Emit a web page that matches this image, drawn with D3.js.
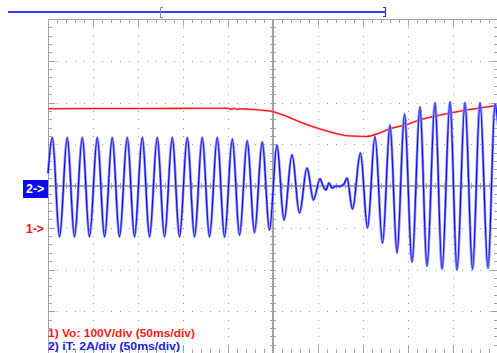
<!DOCTYPE html>
<html><head><meta charset="utf-8">
<script src="https://cdn.jsdelivr.net/npm/d3@7/dist/d3.min.js"></script>
<style>html,body{margin:0;padding:0;background:#fff;overflow:hidden}</style>
</head><body>
<svg id="c" width="497" height="353"></svg>
<script>
// ---- data ----
// time (ms), 50 ms/div, screen spans 10 divisions
const timeDivisions = [-250,-200,-150,-100,-50,0,50,100,150,200,250];
// channel 2 current (A), 2 A/div, 8 divisions
const currentDivisions = [-8,-6,-4,-2,0,2,4,6,8];
// channel 1 voltage (V), 100 V/div, ground marker one division below centre
const voltageDomain = [-300, 500];

const currentTime = [-250,-245.2,-237.2,-228.6,-220.6,-211.9,-203.9,-195.2,-187.2,-178.6,-170.6,-161.9,-153.9,-145.2,-137.2,-128.6,-120.6,-111.9,-103.9,-95.2,-87.2,-78.6,-70.6,-61.9,-53.9,-45.2,-37.2,-28.6,-20.6,-11.9,-3.9,4.4,12.2,21.1,29.4,37.8,45.0,52.2,55.6,58.9,62.2,65.6,70.0,74.4,78.9,82.2,88.3,97.2,105.0,113.3,121.7,130.0,137.8,146.1,154.4,163.3,171.1,180.0,187.8,196.7,204.4,213.3,221.7,230.0,238.9,246.7,250];
const currentValue = [0.6,2.32,-2.43,2.32,-2.43,2.32,-2.43,2.32,-2.43,2.32,-2.43,2.32,-2.43,2.32,-2.43,2.32,-2.43,2.32,-2.43,2.32,-2.43,2.32,-2.43,2.32,-2.44,2.25,-2.35,2.16,-2.23,2.11,-2.11,1.96,-1.63,1.49,-1.29,0.86,-0.67,0.34,0,-0.19,0.14,-0.10,0,-0.02,0.10,0.38,-1.10,1.58,-2.01,2.35,-2.73,2.92,-3.21,3.45,-3.64,3.78,-3.83,3.98,-3.98,4.02,-4.02,3.98,-3.98,3.98,-3.93,3.93,2.9];

// voltage trace Vo
const voltageTime = [-250,-192.2,-136.7,-81.1,-50,-46.7,-43.3,-40,-36.7,-25.6,-12.2,0,13.3,30,48.9,66.7,82.2,104.4,118.9,130,150,163.3,180,196.7,213.3,230,250];
const voltageValue = [285.0,285.5,285.5,286.2,286.2,283.5,286.0,283.5,285.0,283.8,281.4,277.8,268.3,253.2,238.8,227.5,220.4,218.7,227.5,237.1,247.9,258.7,267.1,274.7,281.4,286.7,293.4];

const legendLabels = ["1) Vo: 100V/div (50ms/div)", "2) iT: 2A/div (50ms/div)"];
const markerLabels = ["1->", "2->"];

// ---- drawing ----
const svg = d3.select("#c");
const L = 48, R = 498, T = 19, B = 353;
const x = d3.scaleLinear().domain([timeDivisions[0], timeDivisions[timeDivisions.length-1]]).range([L, R]);
const yI = d3.scaleLinear().domain([currentDivisions[0], currentDivisions[currentDivisions.length-1]]).range([B, T]);
const yV = d3.scaleLinear().domain(voltageDomain).range([B, T]);

svg.append("rect").attr("width",497).attr("height",353).attr("fill","#fff");

const grid = svg.append("g").attr("stroke","#a3a3a3").attr("fill","none").attr("shape-rendering","crispEdges");
const minorT = d3.range(0, 51).map(i => timeDivisions[0] + i*10);
const minorI = d3.range(0, 41).map(i => currentDivisions[0] + i*0.4);
const isMajorT = t => Math.abs(t % 50) < 1e-6;
const isMajorI = v => Math.abs(Math.round(v/2)*2 - v) < 1e-6;

// border
grid.append("rect").attr("x",L).attr("y",T).attr("width",R-L).attr("height",B-T).attr("stroke-width",1);
// border ticks
minorT.forEach(t => {
  const len = isMajorT(t) ? 7 : 4;
  grid.append("line").attr("x1",Math.round(x(t))+0.5).attr("x2",Math.round(x(t))+0.5).attr("y1",T).attr("y2",T+len);
  grid.append("line").attr("x1",Math.round(x(t))+0.5).attr("x2",Math.round(x(t))+0.5).attr("y1",B).attr("y2",B-len);
});
minorI.forEach(v => {
  const len = isMajorI(v) ? 7 : 4;
  grid.append("line").attr("y1",Math.round(yI(v))+0.5).attr("y2",Math.round(yI(v))+0.5).attr("x1",L).attr("x2",L+len);
  grid.append("line").attr("y1",Math.round(yI(v))+0.5).attr("y2",Math.round(yI(v))+0.5).attr("x1",R).attr("x2",R-len);
});
// centre axes
grid.append("line").attr("x1",L).attr("x2",R).attr("y1",yI(0)).attr("y2",yI(0)).attr("stroke-width",1.6).attr("shape-rendering",null);
grid.append("line").attr("y1",T).attr("y2",B).attr("x1",x(0)).attr("x2",x(0)).attr("stroke-width",1.6).attr("shape-rendering",null);
minorT.forEach(t => {
  grid.append("line").attr("x1",Math.round(x(t))+0.5).attr("x2",Math.round(x(t))+0.5).attr("y1",yI(0)-3).attr("y2",yI(0)+3);
});
minorI.forEach(v => {
  grid.append("line").attr("y1",Math.round(yI(v))+0.5).attr("y2",Math.round(yI(v))+0.5).attr("x1",x(0)-3).attr("x2",x(0)+3);
});
// dotted grid
const dots = svg.append("g").attr("fill","#9a9a9a");
timeDivisions.slice(1,-1).filter(t => t !== 0).forEach(t => {
  minorI.forEach(v => dots.append("rect").attr("x",Math.round(x(t))).attr("y",Math.round(yI(v))).attr("width",1).attr("height",1));
});
currentDivisions.slice(1,-1).filter(v => v !== 0).forEach(v => {
  minorT.forEach(t => dots.append("rect").attr("x",Math.round(x(t))).attr("y",Math.round(yI(v))).attr("width",1).attr("height",1));
});

// traces
const vData = voltageTime.map((t,i) => [t, voltageValue[i]]);
const iData = currentTime.map((t,i) => [t, currentValue[i]]);
const vLine = d3.line().x(d => x(d[0])).y(d => yV(d[1])).curve(d3.curveMonotoneX);
const iLine = d3.line().x(d => x(d[0])).y(d => yI(d[1])).curve(d3.curveMonotoneX);

svg.append("path").datum(vData).attr("d",vLine).attr("fill","none").attr("stroke","#ff9090").attr("stroke-width",2);
svg.append("path").datum(vData).attr("d",vLine).attr("fill","none").attr("stroke","#ff1010").attr("stroke-width",1.1);
svg.append("path").datum(iData).attr("d",iLine).attr("fill","none").attr("stroke","#8c8cff").attr("stroke-width",2.6);
svg.append("path").datum(iData).attr("d",iLine).attr("fill","none").attr("stroke","#1010f0").attr("stroke-width",1.2);

// top record bar
const bar = svg.append("g");
bar.append("line").attr("x1",8).attr("x2",386).attr("y1",12).attr("y2",12).attr("stroke","#3a3aff").attr("stroke-width",2);
bar.append("path").attr("d","M163,7.5 H160.5 V17.5 H163").attr("fill","none").attr("stroke","#8080b0").attr("stroke-width",1);
bar.append("path").attr("d","M383,7.5 H385.5 V16.5 H383").attr("fill","none").attr("stroke","#3030ff").attr("stroke-width",1.2);

// channel markers
svg.append("rect").attr("x",23).attr("y",180).attr("width",25).attr("height",18).attr("fill","#0a0af0");
svg.append("text").attr("x",26).attr("y",193).text(markerLabels[1])
  .attr("fill","#fff").attr("font-family","Liberation Sans, Arial, sans-serif").attr("font-size",12.5).attr("font-weight","bold");
svg.append("text").attr("x",26).attr("y",yV(0)+5).text(markerLabels[0])
  .attr("fill","#ff1010").attr("font-family","Liberation Sans, Arial, sans-serif").attr("font-size",12).attr("font-weight","bold");

// legend
const legendColors = ["#ff1a1a", "#2020e8"];
const legendWidths = [147, 132];
legendLabels.forEach((s,i) => {
  svg.append("text").attr("x",48).attr("y",337 + i*13).text(s)
    .attr("fill",legendColors[i]).attr("font-family","Liberation Sans, Arial, sans-serif")
    .attr("font-size",10.5).attr("font-weight","bold")
    .attr("textLength",legendWidths[i]).attr("lengthAdjust","spacingAndGlyphs");
});
</script>
</body></html>
